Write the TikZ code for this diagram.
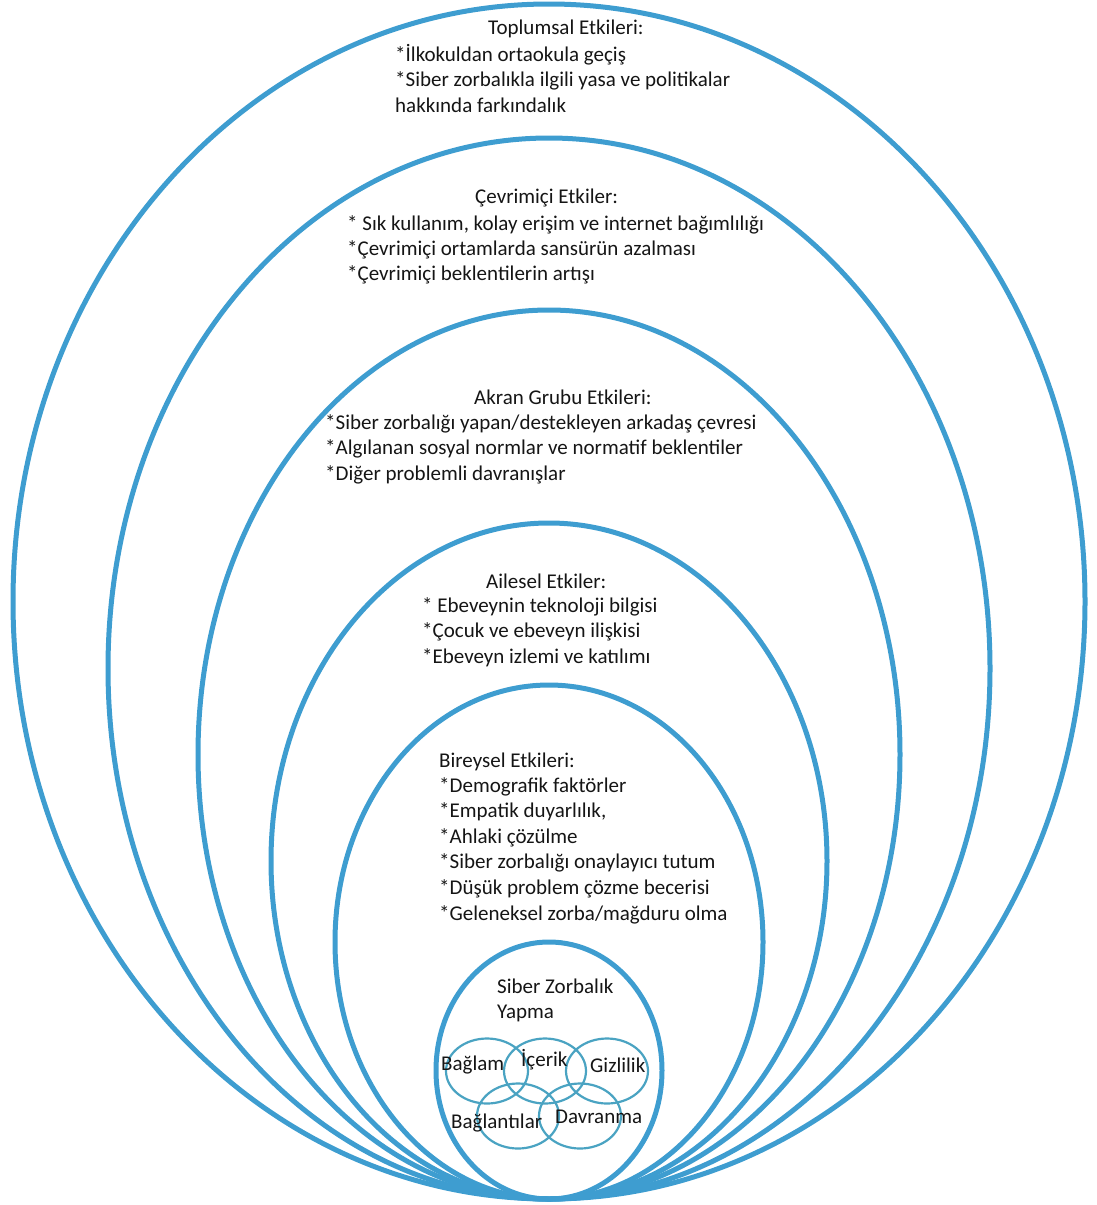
\documentclass[tikz,border=0pt]{standalone}
\usepackage{fontspec}
\setmainfont{Carlito}
\definecolor{cring}{HTML}{3E9DD0}
\definecolor{cpetal}{HTML}{4AA3C2}
\definecolor{ctext}{HTML}{151515}
\tikzset{
  ring/.style={draw=cring, line width=5pt},
  petal/.style={draw=cpetal, line width=2.2pt},
  txt/.style={anchor=base west, inner sep=0pt, text=ctext, font=\fontsize{21}{25}\selectfont},
}

\begin{document}
\begin{tikzpicture}[x=1pt, y=-1pt]
  \useasboundingbox (0,0) rectangle (1096,1205);
  % nested rings, all touching at the bottom
  \foreach \top/\rx in {4/536, 138/441, 310/351, 523/278, 685/214, 942/113}
    \draw[ring] (549,{(\top+1199)/2}) ellipse ({\rx} and {(1199-\top)/2});
  % small overlapping circles
  \foreach \cx/\cy in {487/1071, 545/1071, 607/1071, 518/1116, 580/1116}
    \draw[petal] (\cx,\cy) ellipse (41 and 32.5);

  \node[txt] (toplumsal) at (488,34) {Toplumsal Etkileri:};
  \foreach \line [count=\i from 0] in {{*İlkokuldan ortaokula geçiş}, {*Siber zorbalıkla ilgili yasa ve politikalar}, {hakkında farkındalık}}
    \node[txt] (toplumsal\i) at (395,61+25.5*\i) {\line};

  \node[txt] (cevrimici) at (475,203) {Çevrimiçi Etkiler:};
  \foreach \line [count=\i from 0] in {{* Sık kullanım, kolay erişim ve internet bağımlılığı}, {*Çevrimiçi ortamlarda sansürün azalması}, {*Çevrimiçi beklentilerin artışı}}
    \node[txt] (cevrimici\i) at (347,230+25*\i) {\line};

  \node[txt] (akran) at (474,404) {Akran Grubu Etkileri:};
  \foreach \line [count=\i from 0] in {{*Siber zorbalığı yapan/destekleyen arkadaş çevresi}, {*Algılanan sosyal normlar ve normatif beklentiler}, {*Diğer problemli davranışlar}}
    \node[txt] (akran\i) at (325,429+25.5*\i) {\line};

  \node[txt] (ailesel) at (486,588) {Ailesel Etkiler:};
  \foreach \line [count=\i from 0] in {{* Ebeveynin teknoloji bilgisi}, {*Çocuk ve ebeveyn ilişkisi}, {*Ebeveyn izlemi ve katılımı}}
    \node[txt] (ailesel\i) at (422,612+25.5*\i) {\line};

  \node[txt] (bireysel) at (439,767) {Bireysel Etkileri:};
  \foreach \line [count=\i from 0] in {{*Demografik faktörler}, {*Empatik duyarlılık,}, {*Ahlaki çözülme}, {*Siber zorbalığı onaylayıcı tutum}, {*Düşük problem çözme becerisi}, {*Geleneksel zorba/mağduru olma}}
    \node[txt] (bireysel\i) at (439,792+25.6*\i) {\line};

  \node[txt] (siber) at (497,993) {Siber Zorbalık};
  \node[txt] (yapma) at (497,1018) {Yapma};

  \node[txt] (baglam) at (441,1070) {Bağlam};
  \node[txt] (icerik) at (521,1066) {İçerik};
  \node[txt] (gizlilik) at (590,1072) {Gizlilik};
  \node[txt] (baglantilar) at (451,1128) {Bağlantılar};
  \node[txt] (davranma) at (555,1123) {Davranma};
\end{tikzpicture}
\end{document}
